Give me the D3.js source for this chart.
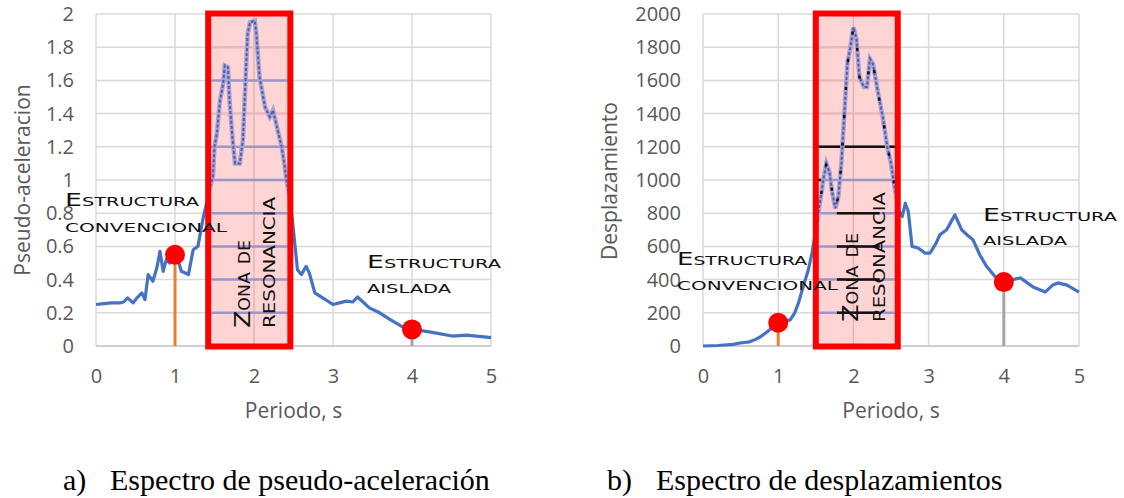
<!DOCTYPE html>
<html>
<head>
<meta charset="utf-8">
<script src="https://cdn.jsdelivr.net/npm/d3@7"></script>
<style>
  html, body { margin: 0; padding: 0; background: #fff; }
  svg { display: block; }
  .tick text { font-family: "Open Sans", "Noto Sans", sans-serif; font-size: 20px; fill: #595959; }
  .axis-title { font-family: "Open Sans", "Noto Sans", sans-serif; font-size: 21px; fill: #595959; }
  .note { font-family: "DejaVu Sans", sans-serif; font-weight: 400; font-variant: small-caps; fill: #111; }
  .caption { font-family: "Liberation Serif", "Times New Roman", serif; font-size: 30px; fill: #000; }
</style>
</head>
<body>
<script>
// Pseudo-acceleration spectrum (period in s, Sa in g)
const periodsA = [0, 0.1, 0.2, 0.3, 0.35, 0.4, 0.47, 0.52, 0.58, 0.62, 0.66, 0.72, 0.77, 0.81, 0.85, 0.89, 0.93, 1.0,
  1.05, 1.08, 1.13, 1.17, 1.23, 1.29, 1.36, 1.4, 1.44, 1.48, 1.5, 1.53, 1.57, 1.61, 1.63, 1.67, 1.69, 1.73, 1.76,
  1.82, 1.86, 1.9, 1.92, 1.95, 2.01, 2.03, 2.07, 2.14, 2.2, 2.24, 2.29, 2.35, 2.39, 2.41, 2.45, 2.49, 2.55, 2.6,
  2.66, 2.7, 2.77, 2.87, 3.0, 3.08, 3.17, 3.25, 3.31, 3.38, 3.46, 3.59, 3.72, 3.88, 4.0, 4.22, 4.51, 4.69, 5.0];
const accel = [0.25, 0.255, 0.26, 0.26, 0.265, 0.29, 0.26, 0.29, 0.32, 0.28, 0.43, 0.39, 0.47, 0.57, 0.45, 0.52, 0.5, 0.55,
  0.5, 0.45, 0.44, 0.43, 0.58, 0.6, 0.78, 0.86, 0.95, 1.02, 1.2, 1.28, 1.48, 1.58, 1.69, 1.68, 1.48, 1.24, 1.1,
  1.1, 1.24, 1.68, 1.88, 1.95, 1.96, 1.88, 1.62, 1.44, 1.38, 1.42, 1.32, 1.2, 1.08, 1.0, 0.9, 0.74, 0.46, 0.43,
  0.48, 0.44, 0.32, 0.29, 0.25, 0.26, 0.27, 0.265, 0.295, 0.265, 0.23, 0.2, 0.16, 0.115, 0.10, 0.085, 0.06, 0.065, 0.05];

// Displacement spectrum (period in s, Sd)
const periodsD = [0, 0.2, 0.4, 0.49, 0.62, 0.7, 0.76, 0.85, 0.92, 1.0, 1.08, 1.16, 1.22, 1.27, 1.33, 1.4, 1.45, 1.5,
  1.55, 1.6, 1.64, 1.68, 1.72, 1.76, 1.8, 1.84, 1.88, 1.92, 1.96, 2.0, 2.04, 2.08, 2.14, 2.18, 2.22, 2.26, 2.33,
  2.39, 2.45, 2.5, 2.55, 2.6, 2.65, 2.69, 2.73, 2.78, 2.86, 2.95, 3.02, 3.1, 3.15, 3.24, 3.35, 3.44, 3.51, 3.59,
  3.68, 3.77, 3.88, 4.0, 4.04, 4.12, 4.22, 4.3, 4.39, 4.55, 4.65, 4.72, 4.84, 5.0];
const disp = [0, 3, 10, 18, 25, 40, 54, 84, 110, 135, 150, 157, 200, 260, 355, 458, 560, 700,
  850, 1000, 1100, 1050, 920, 830, 900, 1100, 1400, 1700, 1800, 1920, 1850, 1620, 1560, 1560, 1730, 1700, 1520,
  1380, 1200, 1100, 950, 820, 780, 860, 810, 600, 590, 560, 560, 620, 670, 700, 790, 700, 670, 640,
  550, 480, 420, 385, 385, 400, 410, 385, 355, 325, 367, 380, 367, 325];

// Ticks
const xTicks = [0, 1, 2, 3, 4, 5];
const yTicksA = [0, 0.2, 0.4, 0.6, 0.8, 1, 1.2, 1.4, 1.6, 1.8, 2];
const yTicksD = [0, 200, 400, 600, 800, 1000, 1200, 1400, 1600, 1800, 2000];

// Resonance zone (period range) and the two highlighted structures
const zoneA = [1.42, 2.46];
const zoneD = [1.5, 2.59];
const markPeriods = [1, 4];
const markA = [0.55, 0.10];
const markD = [140, 385];

// Texts
const axisX = "Periodo, s";
const titleA = "Pseudo-aceleracion";
const titleD = "Desplazamiento";
const captionA = ["a)", "Espectro de pseudo-aceleración"];
const captionD = ["b)", "Espectro de desplazamientos"];

const W = 1124, H = 498;
const svg = d3.select("body").append("svg").attr("width", W).attr("height", H);
svg.append("rect").attr("width", W).attr("height", H).attr("fill", "#fff");

function panel(opt) {
  const g = svg.append("g");
  const x = d3.scaleLinear().domain([0, 5]).range(opt.xr);
  const y = d3.scaleLinear().domain([0, opt.ymax]).range([346, 14]);

  // grid
  g.selectAll(".hg").data(opt.yTicks).join("line")
    .attr("x1", x(0)).attr("x2", x(5)).attr("y1", d => y(d)).attr("y2", d => y(d))
    .attr("stroke", d => d === 0 ? "#bfbfbf" : "#d9d9d9").attr("stroke-width", 1.5);
  g.selectAll(".vg").data(xTicks).join("line")
    .attr("x1", d => x(d)).attr("x2", d => x(d)).attr("y1", y(0)).attr("y2", y(opt.ymax))
    .attr("stroke", "#d9d9d9").attr("stroke-width", 1.5);

  // axes (labels only)
  const ax = g.append("g").attr("transform", `translate(0,${y(0)})`)
    .call(d3.axisBottom(x).tickValues(xTicks).tickSize(0).tickPadding(23).tickFormat(d3.format("d")));
  ax.select(".domain").remove();
  const ay = g.append("g").attr("transform", `translate(${x(0)},0)`)
    .call(d3.axisLeft(y).tickValues(opt.yTicks).tickSize(0).tickPadding(22).tickFormat(d => String(d)));
  ay.select(".domain").remove();

  // spectrum line
  const line = d3.line().x(d => x(d[0])).y(d => y(d[1]));
  const pts = opt.periods.map((p, i) => [p, opt.values[i]]);
  g.append("path").attr("d", line(pts)).attr("fill", "none")
    .attr("stroke", "#4472c4").attr("stroke-width", 3.2).attr("stroke-linejoin", "round");

  // stems to the highlighted structures
  const stemColors = ["#ed7d31", "#a5a5a5"];
  g.selectAll(".stem").data(markPeriods).join("line")
    .attr("x1", d => x(d)).attr("x2", d => x(d))
    .attr("y1", y(0)).attr("y2", (d, i) => y(opt.marks[i]))
    .attr("stroke", (d, i) => stemColors[i]).attr("stroke-width", 3);

  // resonance zone
  const zx0 = x(opt.zone[0]), zx1 = x(opt.zone[1]);
  const zy0 = y(opt.ymax) - 0.5, zy1 = y(0) + 0.5;
  g.append("rect").attr("x", zx0).attr("y", zy0).attr("width", zx1 - zx0).attr("height", zy1 - zy0)
    .attr("fill", "#ffd4d4");
  const clipId = "clip" + opt.id;
  g.append("clipPath").attr("id", clipId).append("rect")
    .attr("x", zx0).attr("y", zy0).attr("width", zx1 - zx0).attr("height", zy1 - zy0);
  const inner = g.append("g").attr("clip-path", `url(#${clipId})`);
  inner.selectAll(".ivg").data(xTicks).join("line")
    .attr("x1", d => x(d)).attr("x2", d => x(d)).attr("y1", zy0).attr("y2", zy1)
    .attr("stroke", "#e6b3b3").attr("stroke-width", 1.5);
  inner.selectAll(".ihg").data(opt.yTicks.slice(1, -1)).join("line")
    .attr("x1", zx0).attr("x2", zx1).attr("y1", d => y(d)).attr("y2", d => y(d))
    .attr("stroke", d => opt.innerFaint.includes(d) ? "#e9b8be" : "#9a96c8").attr("stroke-width", 2.5);
  if (opt.blackRules) {
    opt.blackRules.forEach(r => {
      inner.append("line").attr("x1", x(r[1])).attr("x2", x(r[2])).attr("y1", y(r[0])).attr("y2", y(r[0]))
        .attr("stroke", "#111").attr("stroke-width", 2.5);
    });
  }
  inner.append("path").attr("d", line(pts)).attr("fill", "none")
    .attr("stroke", "#a5a5d6").attr("stroke-width", 4.5);
  inner.append("path").attr("d", line(pts)).attr("fill", "none")
    .attr("stroke", "#5a5aa6").attr("stroke-width", 2).attr("stroke-dasharray", "3 2");
  if (opt.blackRules) {
    inner.append("path").attr("d", line(pts)).attr("fill", "none")
      .attr("stroke", "#111").attr("stroke-width", 2.5).attr("stroke-dasharray", "3 25");
  }
  g.append("rect").attr("x", zx0).attr("y", zy0).attr("width", zx1 - zx0).attr("height", zy1 - zy0)
    .attr("fill", "none").attr("stroke", "#ff0000").attr("stroke-width", 6);

  // structure markers
  g.selectAll(".dot").data(markPeriods).join("circle")
    .attr("cx", d => x(d)).attr("cy", (d, i) => y(opt.marks[i])).attr("r", 10)
    .attr("fill", "#ff0000");

  // axis titles
  g.append("text").attr("class", "axis-title")
    .attr("transform", `translate(${opt.titleX},${opt.titleY}) rotate(-90)`)
    .attr("text-anchor", "middle").attr("dominant-baseline", "central").text(opt.title);
  g.append("text").attr("class", "axis-title")
    .attr("x", (x(0) + x(5)) / 2).attr("y", 418).attr("text-anchor", "middle").text(axisX);

  // annotations
  opt.notes.forEach(n => {
    g.append("text").attr("class", "note").attr("x", n.x).attr("y", n.y)
      .attr("font-size", 18).attr("textLength", n.w).attr("lengthAdjust", "spacingAndGlyphs").text(n.t);
  });
  opt.zoneText.forEach(n => {
    g.append("text").attr("class", "note")
      .attr("transform", `translate(${n.x},${n.y}) rotate(-90)`)
      .attr("font-size", 22).attr("textLength", n.w).attr("lengthAdjust", "spacingAndGlyphs").text(n.t);
  });

  // caption
  g.append("text").attr("class", "caption").attr("x", opt.capX[0]).attr("y", 490).text(opt.caption[0]);
  g.append("text").attr("class", "caption").attr("x", opt.capX[1]).attr("y", 490).text(opt.caption[1]);
}

panel({
  id: "A", xr: [96, 491], ymax: 2, yTicks: yTicksA, periods: periodsA, values: accel,
  marks: markA, zone: zoneA, innerFaint: [1.4, 1.8], title: titleA, titleX: 22, titleY: 180,
  notes: [
    { t: "Estructura", x: 65, y: 206, w: 134 },
    { t: "convencional", x: 65, y: 232, w: 162 },
    { t: "Estructura", x: 367, y: 268, w: 134 },
    { t: "aislada", x: 367, y: 293, w: 84 }
  ],
  zoneText: [
    { t: "Zona de", x: 250, y: 328, w: 88 },
    { t: "resonancia", x: 275, y: 328, w: 131 }
  ],
  caption: captionA, capX: [63, 110]
});

panel({
  id: "D", xr: [703, 1079], ymax: 2000, yTicks: yTicksD, periods: periodsD, values: disp,
  marks: markD, zone: zoneD, innerFaint: [1400, 1600, 1800], title: titleD, titleX: 609, titleY: 181,
  blackRules: [[1200, 1.4, 2.7], [1000, 1.4, 1.62], [800, 1.78, 2.35], [600, 1.78, 2.35], [400, 1.78, 2.35], [200, 1.78, 2.35]],
  notes: [
    { t: "Estructura", x: 677, y: 265, w: 130 },
    { t: "convencional", x: 677, y: 290, w: 161 },
    { t: "Estructura", x: 983, y: 221, w: 134 },
    { t: "aislada", x: 983, y: 245, w: 84 }
  ],
  zoneText: [
    { t: "Zona de", x: 858, y: 322, w: 89 },
    { t: "resonancia", x: 885, y: 322, w: 130 }
  ],
  caption: captionD, capX: [607, 656]
});
</script>
</body>
</html>
